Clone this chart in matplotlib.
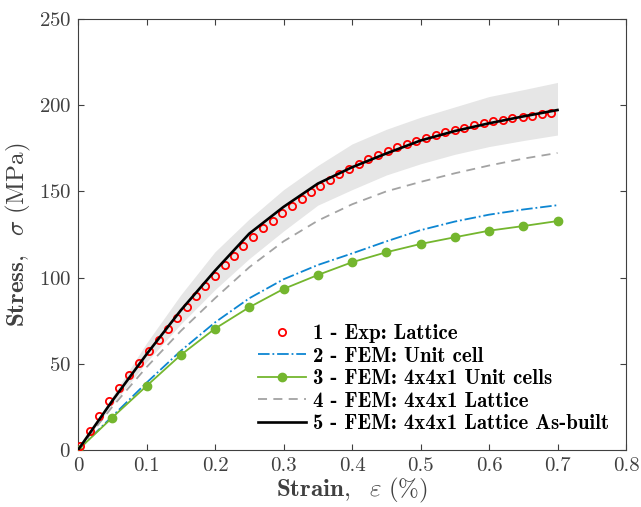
import numpy as np
import matplotlib
matplotlib.use('Agg')
import matplotlib.pyplot as plt

plt.rcParams['mathtext.fontset'] = 'cm'
plt.rcParams['font.family'] = 'cmr10'
plt.rcParams['axes.formatter.use_mathtext'] = True

# Experimental lattice test
strain_exp = [0.003, 0.017, 0.030, 0.045, 0.060, 0.074, 0.089, 0.103, 0.118, 0.132,
              0.145, 0.159, 0.172, 0.186, 0.200, 0.215, 0.228, 0.241, 0.256, 0.270,
              0.284, 0.298, 0.312, 0.327, 0.340, 0.354, 0.368, 0.381, 0.396, 0.410,
              0.424, 0.438, 0.452, 0.466, 0.480, 0.494, 0.508, 0.522, 0.536, 0.550,
              0.564, 0.578, 0.592, 0.606, 0.620, 0.634, 0.649, 0.663, 0.677, 0.690]
stress_exp = [2.3, 11.0, 19.9, 28.4, 36.2, 43.3, 50.5, 57.4, 63.8, 70.4,
              76.8, 83.1, 89.5, 95.3, 101.1, 107.1, 112.7, 118.3, 123.4, 128.6,
              133.0, 137.6, 141.7, 145.6, 149.5, 153.3, 156.6, 160.1, 163.0, 165.9,
              168.6, 171.1, 173.4, 175.5, 177.5, 179.4, 181.2, 182.9, 184.3, 185.6,
              187.0, 188.3, 189.5, 190.6, 191.6, 192.6, 193.3, 193.9, 194.7, 195.3]

# FEM results
strain_fem = [0, 0.05, 0.1, 0.15, 0.2, 0.25, 0.3, 0.35, 0.4, 0.45, 0.5, 0.55, 0.6, 0.65, 0.7]
stress_unit_cell = [0, 19.5, 39.0, 57.5, 74.0, 88.0, 99.0, 107.3, 114.0, 121.0,
                    127.5, 132.5, 136.5, 139.5, 142.0]
stress_4x4x1_cells = [0, 18.8, 37.1, 55.1, 70.4, 82.8, 93.4, 101.5, 108.9, 114.7,
                      119.5, 123.4, 127.2, 129.9, 132.8]
stress_4x4x1_lattice = [0, 25.0, 48.0, 69.0, 88.0, 106.0, 121.0, 133.0, 142.5, 150.0,
                        155.5, 160.5, 165.0, 169.0, 172.3]
stress_as_built = [0, 28.5, 55.5, 81.0, 104.0, 125.5, 141.0, 154.5, 164.0, 172.0,
                   179.5, 185.0, 189.5, 193.5, 197.2]
stress_as_built_hi = [0, 31.0, 62.0, 90.0, 115.0, 134.0, 151.0, 165.0, 177.5, 186.0,
                      193.0, 199.0, 205.0, 209.0, 213.2]
stress_as_built_lo = [0, 26.0, 51.0, 73.0, 93.0, 111.0, 127.0, 142.0, 151.0, 159.5,
                      166.0, 171.5, 176.0, 179.5, 182.7]

labels = ['1 - Exp: Lattice',
          '2 - FEM: Unit cell',
          '3 - FEM: 4x4x1 Unit cells',
          '4 - FEM: 4x4x1 Lattice',
          '5 - FEM: 4x4x1 Lattice As-built']

xticks = [0, 0.1, 0.2, 0.3, 0.4, 0.5, 0.6, 0.7, 0.8]
xtick_labels = ['0', '0.1', '0.2', '0.3', '0.4', '0.5', '0.6', '0.7', '0.8']
yticks = [0, 50, 100, 150, 200, 250]

axis_gray = '#404040'

fig = plt.figure(figsize=(6.41, 5.07), dpi=100)
ax = fig.add_axes([78 / 641, 1 - 450 / 507, 548 / 641, 431 / 507])

ax.fill_between(strain_fem, stress_as_built_lo, stress_as_built_hi,
                color='#e6e6e6', lw=0, zorder=1)

h1, = ax.plot(strain_exp, stress_exp, 'o', ls='none', mfc='none', mec='red',
              ms=5.2, mew=1.3, zorder=4)
h2, = ax.plot(strain_fem, stress_unit_cell, ls='-.', color='#0d86d2', lw=1.3, zorder=3)
h3, = ax.plot(strain_fem, stress_4x4x1_cells, '-o', color='#74b62e', lw=1.3,
              ms=6, zorder=3)
h4, = ax.plot(strain_fem, stress_4x4x1_lattice, color='#a3a3a3', lw=1.3,
              dashes=(5, 3.5), zorder=3)
h5, = ax.plot(strain_fem, stress_as_built, color='black', lw=1.9, zorder=5)

ax.set_xlim(0, 0.8)
ax.set_ylim(0, 250)
ax.set_xticks(xticks)
ax.set_xticklabels(xtick_labels)
ax.set_yticks(yticks)
ax.tick_params(direction='in', length=4, width=0.8, colors=axis_gray,
               labelsize=15, top=True, right=True, pad=5)
for sp in ax.spines.values():
    sp.set_color(axis_gray)
    sp.set_linewidth(0.8)

ax.set_xlabel(r'$\mathbf{Strain,}\ \ \varepsilon\ \mathrm{(\%)}$', fontsize=18,
              color=axis_gray, labelpad=1)
ax.set_ylabel(r'$\mathbf{Stress,}\ \ \sigma\ \mathrm{(MPa)}$', fontsize=18,
              color=axis_gray, labelpad=4)

leg = ax.legend([h1, h2, h3, h4, h5], labels, loc='upper left',
                bbox_to_anchor=(258 / 641, 1 - 324 / 507),
                bbox_transform=fig.transFigure, frameon=False,
                prop={'family': 'cmb10', 'size': 15},
                handlelength=2.3, handletextpad=0.35, labelspacing=0.17,
                borderpad=0, borderaxespad=0, numpoints=1)

fig.savefig('out.png', dpi=100)
